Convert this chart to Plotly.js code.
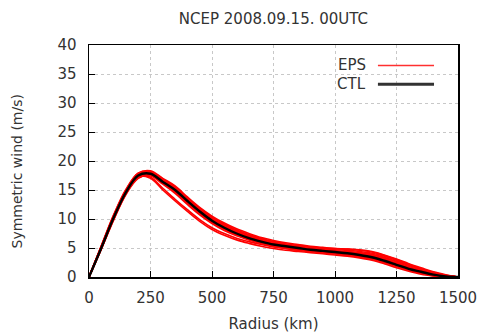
<!DOCTYPE html>
<html>
<head>
<meta charset="utf-8">
<script src="https://cdn.plot.ly/plotly-3.0.1.min.js"></script>
<style>html,body{margin:0;padding:0;background:#fff;}#chart{width:481px;height:336px;}</style>
</head>
<body>
<div id="chart"></div>
<script>
const radius = [0,50,100,150,200,250,300,350,400,450,500,550,600,650,700,750,800,850,900,950,1000,1050,1100,1150,1200,1250,1300,1350,1400,1450,1500];

const ctl = [0,5.0,10.2,14.6,17.5,17.8,16.4,15.0,13.1,11.3,9.7,8.5,7.5,6.7,6.1,5.6,5.3,5.0,4.7,4.5,4.3,4.1,3.8,3.4,2.8,2.1,1.4,0.9,0.4,0.1,0];

const eps01 = [0,5.3,10.6,15.0,17.9,18.3,17.0,15.7,13.8,12.0,10.5,9.3,8.3,7.5,6.8,6.3,5.9,5.6,5.3,5.1,4.9,4.8,4.6,4.3,3.7,3.0,2.2,1.4,0.8,0.3,0];
const eps02 = [0,5.2,10.4,14.8,17.5,17.2,15.3,13.4,11.6,9.9,8.5,7.5,6.7,6.1,5.6,5.2,4.9,4.6,4.4,4.2,4.0,3.8,3.5,3.1,2.5,1.8,1.2,0.6,0.2,0.0,0];
const eps03 = [0,5.1,10.2,14.5,17.3,17.0,15.0,13.1,11.3,9.6,8.2,7.2,6.4,5.8,5.3,4.9,4.6,4.4,4.2,4.0,3.8,3.6,3.3,2.9,2.3,1.6,1.0,0.5,0.2,0.0,0];
const eps04 = [0,4.9,10.0,14.4,17.2,17.7,16.6,15.3,13.4,11.6,10.0,8.8,7.8,7.0,6.3,5.8,5.5,5.2,4.9,4.7,4.5,4.3,4.1,3.7,3.1,2.4,1.7,1.0,0.5,0.2,0];
const eps05 = [0,5.0,10.3,14.7,17.6,18.0,16.7,15.2,13.2,11.4,9.9,8.6,7.6,6.8,6.1,5.6,5.2,4.9,4.6,4.4,4.2,4.0,3.7,3.3,2.7,2.0,1.3,0.8,0.3,0.1,0];
const eps06 = [0,5.2,10.5,14.9,17.7,17.9,16.3,14.6,12.7,10.9,9.4,8.2,7.3,6.5,5.9,5.4,5.1,4.8,4.6,4.4,4.2,4.0,3.8,3.5,3.0,2.3,1.6,1.0,0.5,0.2,0];
const eps07 = [0,4.8,9.8,14.2,17.0,17.6,16.5,15.1,13.3,11.5,9.9,8.7,7.7,6.9,6.2,5.7,5.4,5.1,4.8,4.6,4.4,4.3,4.1,3.8,3.3,2.7,2.0,1.3,0.7,0.3,0];
const eps08 = [0,5.1,10.3,14.6,17.5,18.1,16.8,15.4,13.5,11.7,10.1,8.8,7.7,6.9,6.3,5.8,5.4,5.1,4.8,4.6,4.4,4.2,3.9,3.5,2.9,2.2,1.5,0.9,0.4,0.1,0];
const eps09 = [0,5.0,10.1,14.5,17.3,17.7,16.2,14.8,12.9,11.0,9.5,8.3,7.3,6.6,6.0,5.5,5.2,4.9,4.6,4.4,4.2,4.0,3.7,3.2,2.6,1.9,1.2,0.7,0.3,0.1,0];
const eps10 = [0,5.3,10.5,14.8,17.6,18.0,16.6,15.3,13.4,11.7,10.2,9.1,8.1,7.3,6.6,6.1,5.7,5.4,5.2,5.0,4.9,4.8,4.7,4.4,3.8,3.1,2.3,1.6,0.9,0.4,0];
const eps11 = [0,4.9,10.1,14.5,17.4,17.9,16.5,15.1,13.2,11.3,9.8,8.6,7.6,6.8,6.2,5.7,5.3,5.0,4.7,4.5,4.3,4.1,3.9,3.6,3.0,2.3,1.6,1.0,0.5,0.2,0];
const eps12 = [0,5.1,10.4,14.7,17.5,17.8,16.2,14.7,12.8,11.0,9.5,8.3,7.4,6.6,6.0,5.5,5.1,4.8,4.5,4.3,4.1,3.9,3.6,3.2,2.7,2.0,1.4,0.8,0.4,0.1,0];
const eps13 = [0,5.4,10.7,15.1,17.9,18.2,16.9,15.5,13.6,11.8,10.3,9.0,8.0,7.2,6.6,6.1,5.7,5.4,5.1,4.9,4.7,4.6,4.4,4.1,3.6,2.9,2.1,1.3,0.7,0.2,0];
const eps14 = [0,4.9,9.9,14.3,17.1,17.4,16.0,14.4,12.5,10.7,9.2,8.0,7.1,6.4,5.8,5.3,4.9,4.6,4.4,4.2,4.0,3.8,3.5,3.1,2.6,1.9,1.3,0.7,0.3,0.1,0];
const eps15 = [0,5.0,10.2,14.6,17.4,17.8,16.6,15.4,13.6,11.8,10.2,8.9,7.9,7.1,6.4,5.9,5.5,5.2,4.9,4.7,4.5,4.4,4.2,3.9,3.4,2.6,1.8,1.1,0.6,0.2,0];
const eps16 = [0,5.2,10.3,14.6,17.5,17.9,16.4,14.9,13.0,11.2,9.6,8.4,7.4,6.6,6.0,5.5,5.2,4.9,4.7,4.5,4.3,4.1,3.8,3.4,2.8,2.1,1.4,0.8,0.4,0.1,0];

const epsMembers = [eps01,eps02,eps03,eps04,eps05,eps06,eps07,eps08,eps09,eps10,eps11,eps12,eps13,eps14,eps15,eps16];

const xTicks = [0,250,500,750,1000,1250,1500];
const yTicks = [0,5,10,15,20,25,30,35,40];

const titleText = 'NCEP 2008.09.15. 00UTC';
const xTitle = 'Radius (km)';
const yTitle = 'Symmetric wind (m/s)';
const legendNames = ['EPS','CTL'];

const FONT = 'DejaVu Sans, Liberation Sans, sans-serif';
const TXT = '#333333';

const traces = epsMembers.map(m => ({
  x: radius, y: m, type: 'scatter', mode: 'lines',
  line: {color: '#ff0000', width: 1.6, shape: 'spline', smoothing: 1.0},
  showlegend: false, hoverinfo: 'skip'
}));
traces.push({
  x: radius, y: ctl, type: 'scatter', mode: 'lines',
  line: {color: '#000000', width: 2.4, shape: 'spline', smoothing: 1.0},
  showlegend: false, hoverinfo: 'skip'
});

const layout = {
  width: 481, height: 336,
  margin: {l: 89, r: 23, t: 45, b: 59},
  paper_bgcolor: '#ffffff', plot_bgcolor: '#ffffff',
  font: {family: FONT, size: 15, color: TXT},
  showlegend: false,
  title: {text: titleText, font: {family: FONT, size: 15, color: TXT}, x: 0.5685, xanchor: 'center', y: 0.945, yanchor: 'middle'},
  xaxis: {
    range: [0, 1500], tickvals: xTicks, ticktext: xTicks.map(String),
    ticks: 'inside', ticklen: 6, tickcolor: '#000', tickwidth: 1,
    showline: true, linecolor: '#000', linewidth: 1.5, mirror: true,
    showgrid: true, gridcolor: '#c8c8c8', griddash: 'dot', gridwidth: 1,
    zeroline: false,
    tickfont: {family: FONT, size: 15, color: TXT},
    ticklabelstandoff: 6,
    title: {text: xTitle, font: {family: FONT, size: 15, color: TXT}, standoff: 13}
  },
  yaxis: {
    range: [0, 40], tickvals: yTicks, ticktext: yTicks.map(String),
    ticks: 'inside', ticklen: 6, tickcolor: '#000', tickwidth: 1,
    showline: true, linecolor: '#000', linewidth: 1.5, mirror: true,
    showgrid: true, gridcolor: '#c8c8c8', griddash: 'dot', gridwidth: 1,
    zeroline: true, zerolinecolor: '#7a1414', zerolinewidth: 3,
    tickfont: {family: FONT, size: 15, color: TXT},
    ticklabelstandoff: 8,
    title: {text: ''}
  },
  annotations: [
    {xref: 'paper', yref: 'paper', x: -0.195, y: 0.455, xanchor: 'center', yanchor: 'middle', textangle: -90,
     text: yTitle, showarrow: false, font: {family: FONT, size: 14, color: TXT}},
    {xref: 'paper', yref: 'paper', x: 0.755, y: 0.912, xanchor: 'right', yanchor: 'middle',
     text: legendNames[0], showarrow: false, font: {family: FONT, size: 15, color: TXT}},
    {xref: 'paper', yref: 'paper', x: 0.755, y: 0.831, xanchor: 'right', yanchor: 'middle',
     text: legendNames[1], showarrow: false, font: {family: FONT, size: 15, color: TXT}}
  ],
  shapes: [
    {type: 'line', xref: 'paper', yref: 'paper', x0: 0.783, x1: 0.935, y0: 0.912, y1: 0.912,
     line: {color: '#ff3030', width: 1.5}},
    {type: 'line', xref: 'paper', yref: 'paper', x0: 0.783, x1: 0.935, y0: 0.831, y1: 0.831,
     line: {color: '#333333', width: 3}}
  ]
};

Plotly.newPlot('chart', traces, layout, {displayModeBar: false, staticPlot: true});
</script>
</body>
</html>
